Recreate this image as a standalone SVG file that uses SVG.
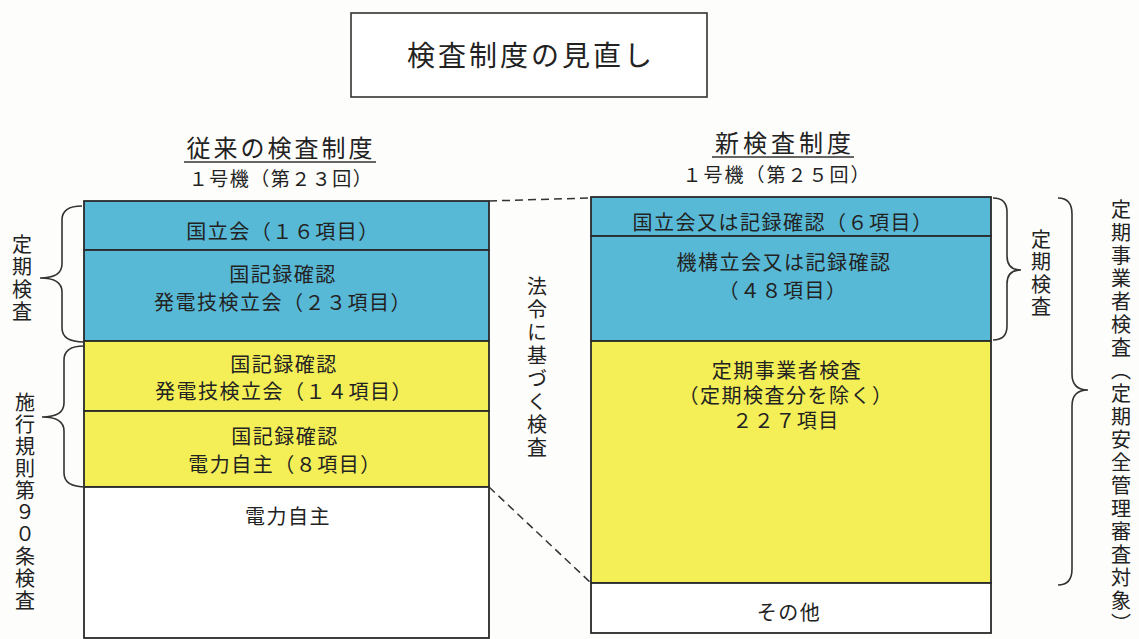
<svg xmlns="http://www.w3.org/2000/svg" width="1139" height="639" viewBox="0 0 1139 639">
<style>
text{font-family:"Noto Sans CJK JP","Noto Sans",sans-serif;fill:#222}
.b{font-size:20px;letter-spacing:1.5px;text-anchor:middle}
.h{font-size:24px;letter-spacing:3px;text-anchor:middle}
.s{font-size:19px;letter-spacing:1.5px;text-anchor:middle}
.v{font-size:20px;writing-mode:vertical-rl;letter-spacing:2.5px}
.box{stroke:#2a2a2a;stroke-width:1.8}
.blue{fill:#58b9d6}
.yel{fill:#f4ef56}
.wht{fill:#ffffff}
.br{fill:none;stroke:#333;stroke-width:1.6}
.dash{fill:none;stroke:#333;stroke-width:1.5;stroke-dasharray:8 5}
.ul{stroke:#333;stroke-width:1.5}
</style>
<rect width="1139" height="639" fill="#fdfdfb"/>

<g id="title">
<rect x="351" y="13" width="356" height="84" fill="#fff" stroke="#333" stroke-width="1.6"/>
<text x="531" y="66" style="font-size:28px;letter-spacing:3px;text-anchor:middle">検査制度の見直し</text>
</g>

<g id="header-old">
<text class="h" x="281" y="157">従来の検査制度</text>
<line class="ul" x1="184" y1="162" x2="376" y2="162"/>
<text class="s" x="281" y="186">１号機（第２３回）</text>
</g>

<g id="header-new">
<text class="h" x="785" y="152" style="letter-spacing:4px">新検査制度</text>
<line class="ul" x1="712" y1="157" x2="854" y2="157"/>
<text class="s" x="777" y="182" style="letter-spacing:2px">１号機（第２５回）</text>
</g>

<g id="old-system">
<rect class="box blue" x="84" y="201" width="405" height="49"/>
<rect class="box blue" x="84" y="250" width="405" height="91"/>
<rect class="box yel" x="84" y="341" width="405" height="70"/>
<rect class="box yel" x="84" y="411" width="405" height="76"/>
<rect class="box wht" x="84" y="487" width="405" height="151"/>
<text class="b" x="283" y="239">国立会（１６項目）</text>
<text class="b" x="283" y="282">国記録確認</text>
<text class="b" x="283" y="310">発電技検立会（２３項目）</text>
<text class="b" x="284" y="372">国記録確認</text>
<text class="b" x="284" y="399">発電技検立会（１４項目）</text>
<text class="b" x="285" y="444">国記録確認</text>
<text class="b" x="285" y="472">電力自主（８項目）</text>
<text class="b" x="288" y="524">電力自主</text>
</g>

<g id="new-system">
<rect class="box blue" x="591" y="197" width="400" height="39"/>
<rect class="box blue" x="591" y="236" width="400" height="105"/>
<rect class="box yel" x="591" y="341" width="400" height="242"/>
<rect class="box wht" x="591" y="583" width="400" height="50"/>
<text class="b" x="783" y="230">国立会又は記録確認（６項目）</text>
<text class="b" x="784" y="270">機構立会又は記録確認</text>
<text class="b" x="783" y="298">（４８項目）</text>
<text class="b" x="787" y="378">定期事業者検査</text>
<text class="b" x="786" y="403">（定期検査分を除く）</text>
<text class="b" x="786" y="428">２２７項目</text>
<text class="b" x="789" y="620">その他</text>
</g>

<g id="label-left-teiki">
<path class="br" d="M82 206 Q62 206 62 220 L62 264 Q62 278 40 278 Q62 278 62 292 L62 328 Q62 342 84 342"/>
<text class="v" x="22" y="234">定期検査</text>
</g>

<g id="label-left-90">
<path class="br" d="M84 346 Q64 346 64 360 L64 403 Q64 417 42 417 Q64 417 64 431 L64 473 Q64 487 86 487"/>
<text class="v" x="25" y="392" style="letter-spacing:2px">施行規則第９０条検査</text>
</g>

<g id="label-right-teiki">
<path class="br" d="M993 198 Q1007 198 1007 212 L1007 256 Q1007 270 1021 270 Q1007 270 1007 284 L1007 326 Q1007 340 993 340"/>
<text class="v" x="1041" y="229">定期検査</text>
</g>

<g id="label-right-jigyosha">
<path class="br" d="M1058 198 Q1072 198 1072 214 L1072 374 Q1072 390 1088 390 Q1072 390 1072 406 L1072 569 Q1072 585 1058 585"/>
<text class="v" x="1121" y="199" style="letter-spacing:3px">定期事業者検査（定期安全管理審査対象）</text>
</g>

<g id="label-middle">
<text class="v" x="537" y="276" style="letter-spacing:3px">法令に基づく検査</text>
</g>

<g id="connectors">
<line class="dash" x1="489" y1="201" x2="591" y2="198"/>
<line class="dash" x1="489" y1="487" x2="591" y2="583"/>
</g>
</svg>
